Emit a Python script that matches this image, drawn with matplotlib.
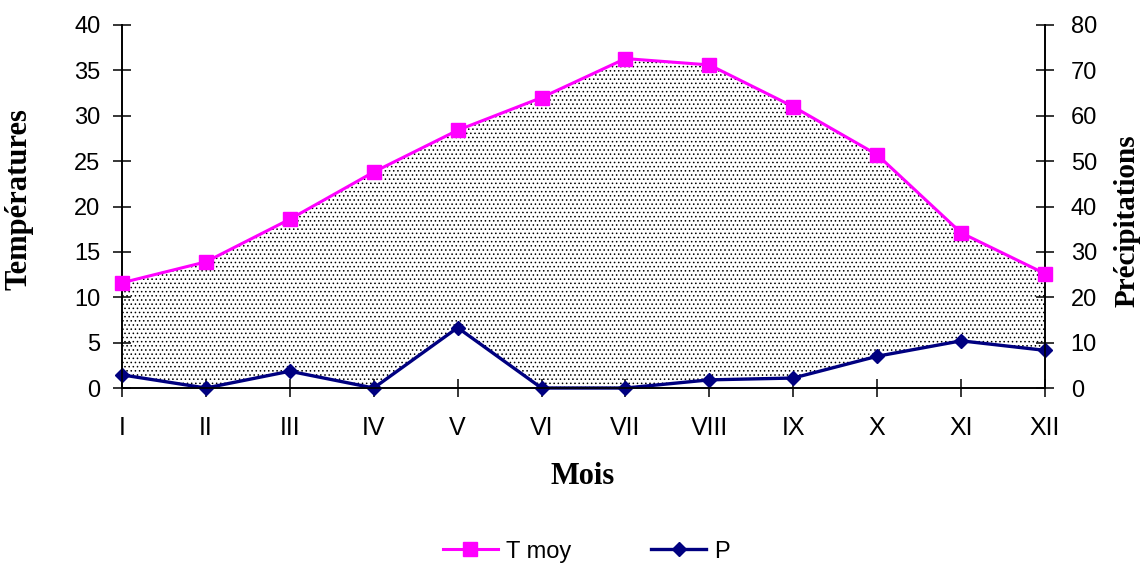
import matplotlib; matplotlib.use("Agg")
import matplotlib.pyplot as plt
import numpy as np

plt.rcParams.update({"font.family": ["Liberation Sans", "DejaVu Sans"], "hatch.linewidth": 0.6,
                     "hatch.color": "black"})

mois = ["I", "II", "III", "IV", "V", "VI", "VII", "VIII", "IX", "X", "XI", "XII"]
t_moy = [11.6, 13.9, 18.6, 23.8, 28.4, 32.0, 36.3, 35.6, 31.0, 25.7, 17.1, 12.6]
precip = [2.9, 0.0, 3.7, 0.0, 13.3, 0.0, 0.0, 1.8, 2.2, 7.0, 10.4, 8.3]

MAG = "#ff00ff"; NAVY = "#000080"
serif = ["Liberation Serif", "DejaVu Serif"]

x = np.arange(len(mois))
fig = plt.figure(figsize=(11.41, 5.63), dpi=100)
ax2 = fig.add_axes([0.1069, 0.3108, 0.8090, 0.6448])
ax = ax2.twinx()  # temperature axis on top, precipitation underneath
ax.yaxis.tick_left(); ax.yaxis.set_label_position("left")
ax2.yaxis.tick_right(); ax2.yaxis.set_label_position("right")

# période sèche : zone entre P et 2T (pointillé)
ax2.fill_between(x, 2 * np.array(t_moy), precip, facecolor="white", edgecolor="black",
                 hatch="....", linewidth=0, zorder=1)
lp, = ax2.plot(x, precip, "-D", color=NAVY, lw=2.4, ms=7, clip_on=False, zorder=3, label="P")
lt, = ax.plot(x, t_moy, "-s", color=MAG, lw=2.2, ms=9.5, clip_on=False, zorder=3, label="T moy")

ax.set_xlim(0, 11)
ax.set_ylim(0, 40); ax.set_yticks(range(0, 41, 5))
ax2.set_ylim(0, 80); ax2.set_yticks(range(0, 81, 10))
ax2.set_xticks(x); ax2.set_xticklabels(mois)

for a in (ax, ax2):
    a.spines["top"].set_visible(False)
    for s in a.spines.values():
        s.set_linewidth(1.2)
ax.tick_params(axis="y", direction="inout", length=13, width=1.1, labelsize=17, pad=9)
ax2.tick_params(axis="y", direction="inout", length=13, width=1.1, labelsize=17, pad=12)
ax2.tick_params(axis="x", direction="inout", length=13, width=1.1, labelsize=18, pad=14)

ax.set_ylabel("Températures", fontsize=22, fontweight="bold", family=serif)
ax.yaxis.set_label_coords(-0.096, 0.52)
ax2.set_ylabel("Précipitations", fontsize=21, fontweight="bold", family=serif, rotation=90)
ax2.yaxis.set_label_coords(1.074, 0.46)
ax2.set_xlabel("Mois", fontsize=22, fontweight="bold", family=serif)
ax2.xaxis.set_label_coords(0.4995, -0.205)

fig.legend([lt, lp], ["T moy", "P"], loc="center", bbox_to_anchor=(0.514, 0.02), ncol=2,
           frameon=False, fontsize=17, handlelength=2.3, handletextpad=0.35, columnspacing=3.4)

fig.savefig("out.png", dpi=100)
